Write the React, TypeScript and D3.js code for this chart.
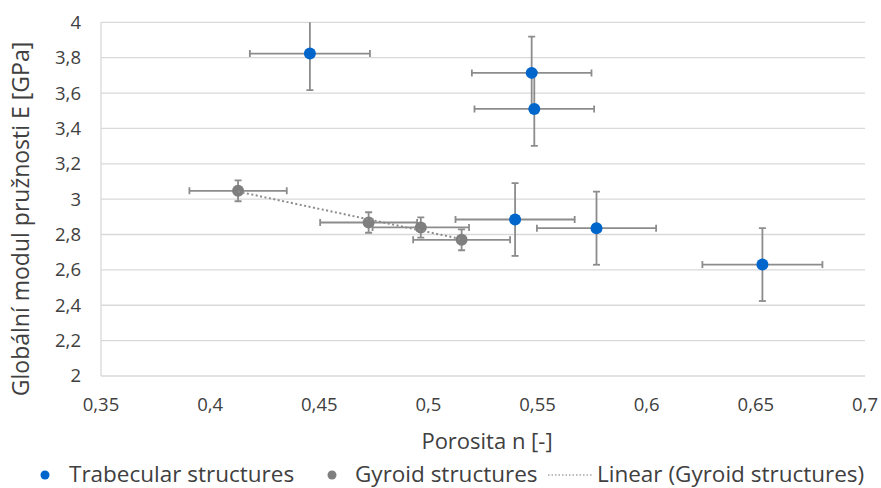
import React, { useEffect, useRef } from "react";
import * as d3 from "d3";

// Trabecular structures (porosity, modulus, x error, y error)
const trabX = [0.4457, 0.5473, 0.5485, 0.5397, 0.577, 0.653];
const trabY = [3.823, 3.714, 3.51, 2.885, 2.836, 2.63];
const trabXErr = [0.0275, 0.0274, 0.0274, 0.0273, 0.0273, 0.0275];
const trabYErr = [0.207, 0.205, 0.209, 0.206, 0.207, 0.206];

// Gyroid structures
const gyrX = [0.4128, 0.4726, 0.4965, 0.5152];
const gyrY = [3.047, 2.868, 2.84, 2.77];
const gyrXErr = [0.0223, 0.0222, 0.0221, 0.0222];
const gyrYErr = [0.059, 0.058, 0.057, 0.059];

const xTicks = [0.35, 0.4, 0.45, 0.5, 0.55, 0.6, 0.65, 0.7];
const yTicks = [2, 2.2, 2.4, 2.6, 2.8, 3, 3.2, 3.4, 3.6, 3.8, 4];

const seriesNames = ["Trabecular structures", "Gyroid structures", "Linear (Gyroid structures)"];
const xTitle = "Porosita n [-]";
const yTitle = "Globální modul pružnosti E [GPa]";

const W = 881;
const H = 488;
const FONT = "'Open Sans', 'DejaVu Sans', sans-serif";
const BLUE = "#0066cc";
const GRAY = "#7f7f7f";
const BAR = "#8c8c8c";

const fmt = (v: number) => String(+v.toFixed(2)).replace(".", ",");

function App() {
  const ref = useRef<SVGSVGElement>(null);

  useEffect(() => {
    const svg = d3.select(ref.current);
    svg.selectAll("*").remove();

    const x = d3.scaleLinear().domain([0.35, 0.7]).range([101, 865]);
    const y = d3.scaleLinear().domain([2, 4]).range([376, 22.3]);

    svg
      .append("defs")
      .append("clipPath")
      .attr("id", "plot")
      .append("rect")
      .attr("x", x(0.35))
      .attr("y", y(4))
      .attr("width", x(0.7) - x(0.35))
      .attr("height", y(2) - y(4));

    // gridlines
    svg
      .append("g")
      .selectAll("line")
      .data(yTicks)
      .enter()
      .append("line")
      .attr("x1", x(0.35))
      .attr("x2", x(0.7))
      .attr("y1", (d) => y(d))
      .attr("y2", (d) => y(d))
      .attr("stroke", "#d9d9d9")
      .attr("stroke-width", 1.3);

    svg
      .append("line")
      .attr("x1", x(0.35))
      .attr("x2", x(0.35))
      .attr("y1", y(4))
      .attr("y2", y(2))
      .attr("stroke", "#d9d9d9")
      .attr("stroke-width", 1.3);

    // tick labels
    svg
      .append("g")
      .selectAll("text")
      .data(yTicks)
      .enter()
      .append("text")
      .attr("x", 81)
      .attr("y", (d) => y(d))
      .attr("dy", "0.35em")
      .attr("text-anchor", "end")
      .attr("font-family", FONT)
      .attr("font-size", 18.5)
      .attr("fill", "#404040")
      .text((d) => fmt(d));

    svg
      .append("g")
      .selectAll("text")
      .data(xTicks)
      .enter()
      .append("text")
      .attr("x", (d) => x(d))
      .attr("y", 411)
      .attr("text-anchor", "middle")
      .attr("font-family", FONT)
      .attr("font-size", 18.5)
      .attr("fill", "#404040")
      .text((d) => fmt(d));

    // axis titles
    svg
      .append("text")
      .attr("x", 487)
      .attr("y", 449)
      .attr("text-anchor", "middle")
      .attr("font-family", FONT)
      .attr("font-size", 22)
      .attr("fill", "#404040")
      .text(xTitle);

    svg
      .append("text")
      .attr("transform", "translate(29,219) rotate(-90)")
      .attr("text-anchor", "middle")
      .attr("font-family", FONT)
      .attr("font-size", 23)
      .attr("fill", "#404040")
      .text(yTitle);

    const plot = svg.append("g").attr("clip-path", "url(#plot)");

    // trendline (least squares over gyroid points)
    const mx = d3.mean(gyrX) as number;
    const my = d3.mean(gyrY) as number;
    const sxy = d3.sum(gyrX, (v, i) => (v - mx) * (gyrY[i] - my));
    const sxx = d3.sum(gyrX, (v) => (v - mx) * (v - mx));
    const slope = sxy / sxx;
    const x0 = d3.min(gyrX) as number;
    const x1 = d3.max(gyrX) as number;

    const drawErr = (xs: number[], ys: number[], xe: number[], ye: number[]) => {
      const g = plot.append("g").attr("stroke", BAR).attr("stroke-width", 1.8).attr("fill", "none");
      xs.forEach((xv, i) => {
        const cx = x(xv);
        const cy = y(ys[i]);
        const l = x(xv - xe[i]);
        const r = x(xv + xe[i]);
        const t = y(ys[i] + ye[i]);
        const b = y(ys[i] - ye[i]);
        g.append("line").attr("x1", l).attr("x2", r).attr("y1", cy).attr("y2", cy);
        g.append("line").attr("x1", l).attr("x2", l).attr("y1", cy - 3.5).attr("y2", cy + 3.5);
        g.append("line").attr("x1", r).attr("x2", r).attr("y1", cy - 3.5).attr("y2", cy + 3.5);
        g.append("line").attr("x1", cx).attr("x2", cx).attr("y1", t).attr("y2", b);
        g.append("line").attr("x1", cx - 3.5).attr("x2", cx + 3.5).attr("y1", t).attr("y2", t);
        g.append("line").attr("x1", cx - 3.5).attr("x2", cx + 3.5).attr("y1", b).attr("y2", b);
      });
    };

    const drawDots = (xs: number[], ys: number[], color: string) => {
      plot
        .append("g")
        .selectAll("circle")
        .data(xs)
        .enter()
        .append("circle")
        .attr("cx", (d) => x(d))
        .attr("cy", (d, i) => y(ys[i]))
        .attr("r", 6)
        .attr("fill", color);
    };

    drawErr(trabX, trabY, trabXErr, trabYErr);
    drawDots(trabX, trabY, BLUE);
    drawErr(gyrX, gyrY, gyrXErr, gyrYErr);
    drawDots(gyrX, gyrY, GRAY);

    plot
      .append("line")
      .attr("x1", x(x0))
      .attr("y1", y(my + slope * (x0 - mx)))
      .attr("x2", x(x1))
      .attr("y2", y(my + slope * (x1 - mx)))
      .attr("stroke", "#8c8c8c")
      .attr("stroke-width", 2)
      .attr("stroke-dasharray", "2,2.5");

    // legend
    const lg = svg.append("g").attr("font-family", FONT).attr("font-size", 22.5).attr("fill", "#404040");
    lg.append("circle").attr("cx", 45).attr("cy", 475).attr("r", 4.5).attr("fill", BLUE);
    lg.append("text").attr("x", 69).attr("y", 482).text(seriesNames[0]);
    lg.append("circle").attr("cx", 332).attr("cy", 475).attr("r", 4.5).attr("fill", GRAY);
    lg.append("text").attr("x", 355).attr("y", 482).text(seriesNames[1]);
    lg.append("line")
      .attr("x1", 548)
      .attr("x2", 592)
      .attr("y1", 475)
      .attr("y2", 475)
      .attr("stroke", "#a6a6a6")
      .attr("stroke-width", 1.5)
      .attr("stroke-dasharray", "1.5,2");
    lg.append("text").attr("x", 597).attr("y", 482).text(seriesNames[2]);
  }, []);

  return (
    <div style={{ position: "absolute", left: 0, top: 0 }}>
      <svg ref={ref} width={W} height={H} style={{ display: "block", background: "#fff" }} />
    </div>
  );
}

export default App;
